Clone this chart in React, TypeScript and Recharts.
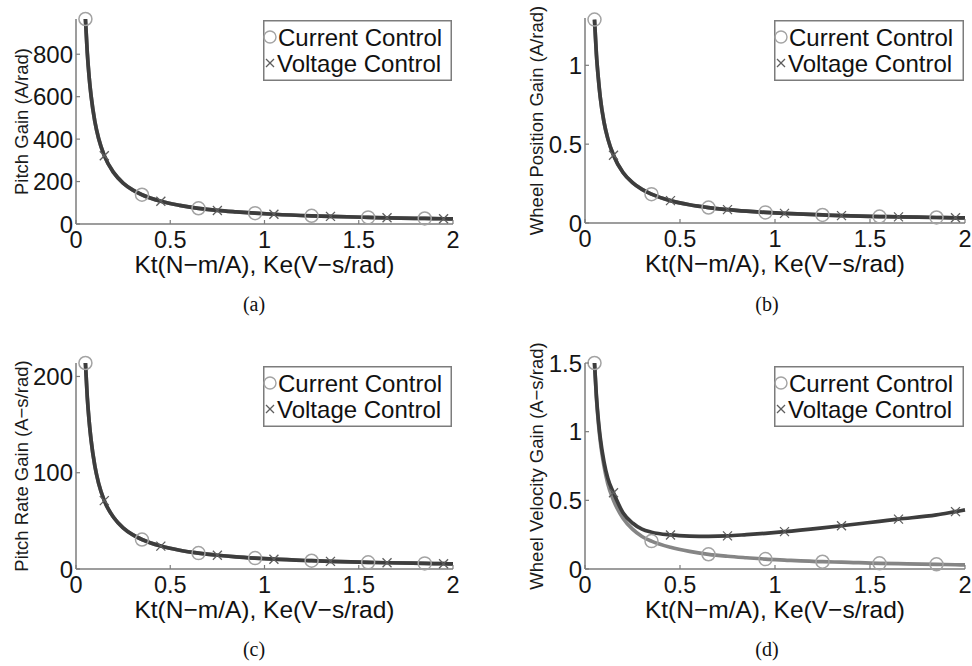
import React from 'react';
import { ComposedChart, Line, XAxis, YAxis, Legend } from 'recharts';

// Kt / Ke sample points (N-m/A, V-s/rad)
const kt = [0.05, 0.06, 0.07, 0.08, 0.1, 0.12, 0.15, 0.2, 0.25, 0.3, 0.35, 0.45, 0.55, 0.65, 0.75, 0.85, 0.95, 1.05, 1.25, 1.35, 1.55, 1.65, 1.85, 1.95, 2.0];
const circleMarks = [0.05, 0.35, 0.65, 0.95, 1.25, 1.55, 1.85];
const crossMarks = [0.15, 0.45, 0.75, 1.05, 1.35, 1.65, 1.95];
const xTicks = [0, 0.5, 1, 1.5, 2];

// (a) Pitch Gain (A/rad)
const pitchCurrent = [966, 805, 690, 604, 483, 403, 322, 242, 193, 161, 138, 107, 88, 74, 64, 57, 51, 46, 38.6, 35.8, 31.2, 29.3, 26.1, 24.8, 24.2];
const pitchVoltage = [966, 805, 690, 604, 483, 403, 322, 242, 193, 161, 138, 107, 88, 74, 64, 57, 51, 46, 38.6, 35.8, 31.2, 29.3, 26.1, 24.8, 24.2];
const pitchTicks = [0, 200, 400, 600, 800];

// (b) Wheel Position Gain (A/rad)
const wheelPosCurrent = [1.29, 1.07, 0.92, 0.8, 0.64, 0.535, 0.43, 0.32, 0.256, 0.213, 0.183, 0.142, 0.116, 0.098, 0.085, 0.075, 0.067, 0.061, 0.051, 0.047, 0.041, 0.039, 0.035, 0.033, 0.032];
const wheelPosVoltage = [1.29, 1.07, 0.92, 0.8, 0.64, 0.535, 0.43, 0.32, 0.256, 0.213, 0.183, 0.142, 0.116, 0.098, 0.085, 0.075, 0.067, 0.061, 0.051, 0.047, 0.041, 0.039, 0.035, 0.033, 0.032];
const wheelPosTicks = [0, 0.5, 1];

// (c) Pitch Rate Gain (A-s/rad)
const pitchRateCurrent = [214, 178, 153, 134, 107, 89, 71, 53.5, 42.8, 35.7, 30.6, 23.8, 19.5, 16.5, 14.3, 12.6, 11.3, 10.2, 8.6, 7.9, 6.9, 6.5, 5.8, 5.5, 5.35];
const pitchRateVoltage = [214, 178, 153, 134, 107, 89, 71, 53.5, 42.8, 35.7, 30.6, 23.8, 19.5, 16.5, 14.3, 12.6, 11.3, 10.2, 8.6, 7.9, 6.9, 6.5, 5.8, 5.5, 5.35];
const pitchRateTicks = [0, 100, 200];

// (d) Wheel Velocity Gain (A-s/rad)
const wheelVelCurrent = [1.5, 1.25, 1.07, 0.935, 0.75, 0.62, 0.5, 0.37, 0.29, 0.237, 0.203, 0.158, 0.128, 0.107, 0.093, 0.082, 0.072, 0.065, 0.053, 0.05, 0.041, 0.039, 0.034, 0.031, 0.03];
const wheelVelVoltage = [1.5, 1.26, 1.09, 0.96, 0.78, 0.66, 0.555, 0.41, 0.335, 0.29, 0.268, 0.248, 0.24, 0.238, 0.241, 0.25, 0.26, 0.272, 0.3, 0.315, 0.347, 0.363, 0.394, 0.418, 0.43];
const wheelVelTicks = [0, 0.5, 1, 1.5];

const xLabelText = 'Kt(N\u2212m/A), Ke(V\u2212s/rad)';
const legendNames = ['Current Control', 'Voltage Control'];

const AXIS = '#7c7c7c';
const DARK = '#3d3d3d';
const GRAY = '#858585';
const CIRCLE = '#a3a3a3';
const CROSS = '#5e5e5e';
const SANS = '"Liberation Sans", Arial, Helvetica, sans-serif';
const SERIF = '"Liberation Serif", "Times New Roman", serif';

type PanelProps = {
  left: number;
  top: number;
  width: number;
  height: number;
  plotLeft: number;
  plotRight: number;
  plotTop: number;
  plotBottom: number;
  yLabelX: number;
  cur: number[];
  vol: number[];
  curColor: string;
  yMax: number;
  yTicks: number[];
  yLabel: string;
  legendX: number;
  legendY: number;
  legendW: number;
};

const XTick = (props: any) => {
  const { x, payload, axisY } = props;
  return (
    <g>
      <line x1={x} x2={x} y1={axisY} y2={axisY - 4} stroke={AXIS} strokeWidth={1.2} />
      <text x={x} y={axisY + 16} textAnchor="middle" dominantBaseline="central" fontSize={23.5} fontFamily={SANS} fill="#151515">
        {String(payload.value)}
      </text>
    </g>
  );
};

const YTick = (props: any) => {
  const { y, payload, axisX } = props;
  return (
    <g>
      <line x1={axisX} x2={axisX + 4} y1={y} y2={y} stroke={AXIS} strokeWidth={1.2} />
      <text x={axisX - 3} y={y} textAnchor="end" dominantBaseline="central" fontSize={24} fontFamily={SANS} fill="#151515">
        {String(payload.value)}
      </text>
    </g>
  );
};

const LegendBox = ({ w }: { w: number }) => (
  <svg width={w} height={61} style={{ display: 'block' }}>
    <rect x={0.75} y={0.75} width={w - 1.5} height={59.5} fill="#ffffff" stroke={AXIS} strokeWidth={1.5} />
    <circle cx={7} cy={17} r={6} fill="none" stroke={CIRCLE} strokeWidth={1.4} />
    <text x={15} y={17} dominantBaseline="central" fontSize={24} fontFamily={SANS} fill="#111">{legendNames[0]}</text>
    <line x1={3} x2={11} y1={39} y2={47} stroke={CROSS} strokeWidth={1.3} />
    <line x1={3} x2={11} y1={47} y2={39} stroke={CROSS} strokeWidth={1.3} />
    <text x={14} y={43} dominantBaseline="central" fontSize={24} fontFamily={SANS} fill="#111">{legendNames[1]}</text>
  </svg>
);

function Panel(p: PanelProps) {
  const rows = kt.map((x, i) => ({ x, cur: p.cur[i], vol: p.vol[i] }));
  const plotH = p.plotBottom - p.plotTop;
  const plotCx = (p.plotLeft + p.plotRight) / 2;

  const circleDot = (props: any) => {
    const { cx, cy, payload, index } = props;
    if (!circleMarks.includes(payload.x)) return <g key={`c${index}`} />;
    return <circle key={`c${index}`} cx={cx} cy={cy} r={6.5} fill="none" stroke={CIRCLE} strokeWidth={1.5} />;
  };
  const crossDot = (props: any) => {
    const { cx, cy, payload, index } = props;
    if (!crossMarks.includes(payload.x)) return <g key={`x${index}`} />;
    const s = 4.5;
    return (
      <g key={`x${index}`}>
        <line x1={cx - s} x2={cx + s} y1={cy - s} y2={cy + s} stroke={CROSS} strokeWidth={1.3} />
        <line x1={cx - s} x2={cx + s} y1={cy + s} y2={cy - s} stroke={CROSS} strokeWidth={1.3} />
      </g>
    );
  };

  const xLabel = () => (
    <text x={plotCx} y={p.plotBottom + 40} textAnchor="middle" dominantBaseline="central" fontSize={24.5} fontFamily={SANS} fill="#111">
      {xLabelText}
    </text>
  );
  const yLabelY = p.plotTop + plotH / 2;
  const yLabel = () => (
    <text
      x={p.yLabelX}
      y={yLabelY}
      transform={`rotate(-90 ${p.yLabelX} ${yLabelY})`}
      textAnchor="middle"
      dominantBaseline="central"
      fontSize={18.5}
      fontFamily={SANS}
      fill="#1a1a1a"
    >
      {p.yLabel}
    </text>
  );

  return (
    <div style={{ position: 'absolute', left: p.left, top: p.top, width: p.width, height: p.height }}>
      <ComposedChart
        width={p.width}
        height={p.height}
        data={rows}
        margin={{ top: p.plotTop, right: p.width - p.plotRight, bottom: 0, left: 0 }}
      >
        <XAxis
          type="number"
          dataKey="x"
          domain={[0, 2]}
          ticks={xTicks}
          interval={0}
          height={p.height - p.plotBottom}
          axisLine={{ stroke: AXIS, strokeWidth: 1.5 }}
          tickLine={false}
          tick={<XTick axisY={p.plotBottom} />}
          label={xLabel}
        />
        <YAxis
          type="number"
          domain={[0, p.yMax]}
          ticks={p.yTicks}
          interval={0}
          width={p.plotLeft}
          axisLine={{ stroke: AXIS, strokeWidth: 1.5 }}
          tickLine={false}
          tick={<YTick axisX={p.plotLeft} />}
          label={yLabel}
        />
        <Line dataKey="cur" name={legendNames[0]} type="monotone" stroke={p.curColor} strokeWidth={3.7} dot={false} activeDot={false} isAnimationActive={false} />
        <Line dataKey="vol" name={legendNames[1]} type="monotone" stroke={DARK} strokeWidth={3.7} dot={false} activeDot={false} isAnimationActive={false} />
        <Line dataKey="cur" type="monotone" stroke="none" dot={circleDot} activeDot={false} legendType="none" isAnimationActive={false} />
        <Line dataKey="vol" type="monotone" stroke="none" dot={crossDot} activeDot={false} legendType="none" isAnimationActive={false} />
        <Legend
          layout="vertical"
          align="center"
          verticalAlign="middle"
          content={() => <LegendBox w={p.legendW} />}
          wrapperStyle={{ left: p.legendX, top: p.legendY, width: p.legendW, height: 61, right: 'auto', bottom: 'auto' }}
        />
      </ComposedChart>
    </div>
  );
}

const Caption = ({ x, y, text }: { x: number; y: number; text: string }) => (
  <div
    style={{
      position: 'absolute',
      left: x - 40,
      top: y - 12,
      width: 80,
      height: 24,
      lineHeight: '24px',
      textAlign: 'center',
      fontFamily: SERIF,
      fontSize: 20,
      color: '#111',
    }}
  >
    {text}
  </div>
);

export default function App() {
  return (
    <div style={{ position: 'absolute', left: 0, top: 0, width: 972, height: 666, background: '#ffffff', overflow: 'hidden' }}>
      <Panel left={0} top={0} width={486} height={330} plotLeft={76} plotRight={453} plotTop={19} plotBottom={224} yLabelX={21}
        cur={pitchCurrent} vol={pitchVoltage} curColor={GRAY} yMax={966} yTicks={pitchTicks} yLabel="Pitch Gain (A/rad)"
        legendX={263} legendY={20} legendW={189} />
      <Panel left={486} top={0} width={486} height={330} plotLeft={99} plotRight={479} plotTop={18} plotBottom={223} yLabelX={50}
        cur={wheelPosCurrent} vol={wheelPosVoltage} curColor={GRAY} yMax={1.3} yTicks={wheelPosTicks} yLabel="Wheel Position Gain (A/rad)"
        legendX={288} legendY={20} legendW={190} />
      <Panel left={0} top={330} width={486} height={336} plotLeft={76} plotRight={453} plotTop={33} plotBottom={239} yLabelX={21}
        cur={pitchRateCurrent} vol={pitchRateVoltage} curColor={GRAY} yMax={214} yTicks={pitchRateTicks} yLabel={'Pitch Rate Gain (A\u2212s/rad)'}
        legendX={263} legendY={36} legendW={189} />
      <Panel left={486} top={330} width={486} height={336} plotLeft={99} plotRight={479} plotTop={33} plotBottom={239} yLabelX={50}
        cur={wheelVelCurrent} vol={wheelVelVoltage} curColor={GRAY} yMax={1.5} yTicks={wheelVelTicks} yLabel={'Wheel Velocity Gain (A\u2212s/rad)'}
        legendX={288} legendY={36} legendW={190} />
      <Caption x={254} y={304} text="(a)" />
      <Caption x={767} y={304} text="(b)" />
      <Caption x={254} y={649} text="(c)" />
      <Caption x={767} y={649} text="(d)" />
    </div>
  );
}
